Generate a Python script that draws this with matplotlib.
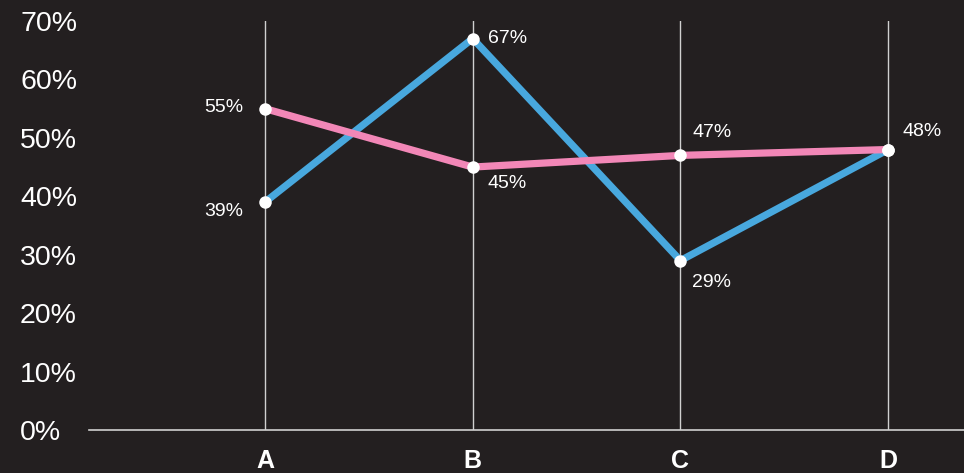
import matplotlib
matplotlib.use("Agg")
import matplotlib.pyplot as plt
import matplotlib.transforms as mtransforms

categories = ["A", "B", "C", "D"]
blue_vals = [39, 67, 29, 48]
pink_vals = [55, 45, 47, 48]
y_ticks = [0, 10, 20, 30, 40, 50, 60, 70]

BG = "#231f20"
BLUE = "#48a8de"
PINK = "#f287b7"
GRID = "#d0d0d0"

plt.rcParams["font.family"] = ["Liberation Sans", "DejaVu Sans"]

fig = plt.figure(figsize=(9.64, 4.73), dpi=100, facecolor=BG)
ax = fig.add_axes([89 / 964, 1 - 430 / 473, 1 - 89 / 964, (430 - 21) / 473])
ax.set_facecolor(BG)

x = list(range(len(categories)))
ax.set_xlim(-0.847, 3.365)
ax.set_ylim(0, 70)

for xi in x:
    ax.axvline(xi, color=GRID, lw=1, zorder=1)

ax.plot(x, blue_vals, color=BLUE, lw=5.2, zorder=2, solid_capstyle="butt")
ax.plot(x, pink_vals, color=PINK, lw=5.2, zorder=3, solid_capstyle="butt")
ax.plot(x, blue_vals, "o", color="white", ms=9, mec="none", zorder=4)
ax.plot(x, pink_vals, "o", color="white", ms=9, mec="none", zorder=4)

# label offsets in pixels (dx, dy, ha)
blue_off = [(-22, -9, "right"), (15, 0, "left"), (12, -22, "left"), (14, 18, "left")]
pink_off = [(-22, 1, "right"), (15, -16, "left"), (12, 23, "left"), (14, 18, "left")]

def label(vals, offs, skip=()):
    for i, (v, (dx, dy, ha)) in enumerate(zip(vals, offs)):
        if i in skip:
            continue
        ax.annotate(f"{v}%", (x[i], v), xytext=(dx * 0.72, dy * 0.72),
                    textcoords="offset points", ha=ha, va="center",
                    color="white", fontsize=14, zorder=5)

label(blue_vals, blue_off)
label(pink_vals, pink_off, skip=(3,))

# y labels, left aligned near the figure edge (nudged ~3px down like the original)
trans = mtransforms.blended_transform_factory(fig.transFigure, ax.transData) + \
    mtransforms.ScaledTranslation(0, -3 / 100, fig.dpi_scale_trans)
for t in y_ticks:
    ax.text(20 / 964, t, f"{t}%", transform=trans, ha="left", va="center",
            color="white", fontsize=20.5, clip_on=False)

ax.set_yticks([])
ax.set_xticks(x)
ax.set_xticklabels(categories, fontsize=18, fontweight="bold", color="white")
ax.tick_params(axis="x", length=0, pad=14)

for s in ["top", "right", "left"]:
    ax.spines[s].set_visible(False)
ax.spines["bottom"].set_color(GRID)
ax.spines["bottom"].set_linewidth(1.2)

fig.savefig("out.png", dpi=100, facecolor=BG)
